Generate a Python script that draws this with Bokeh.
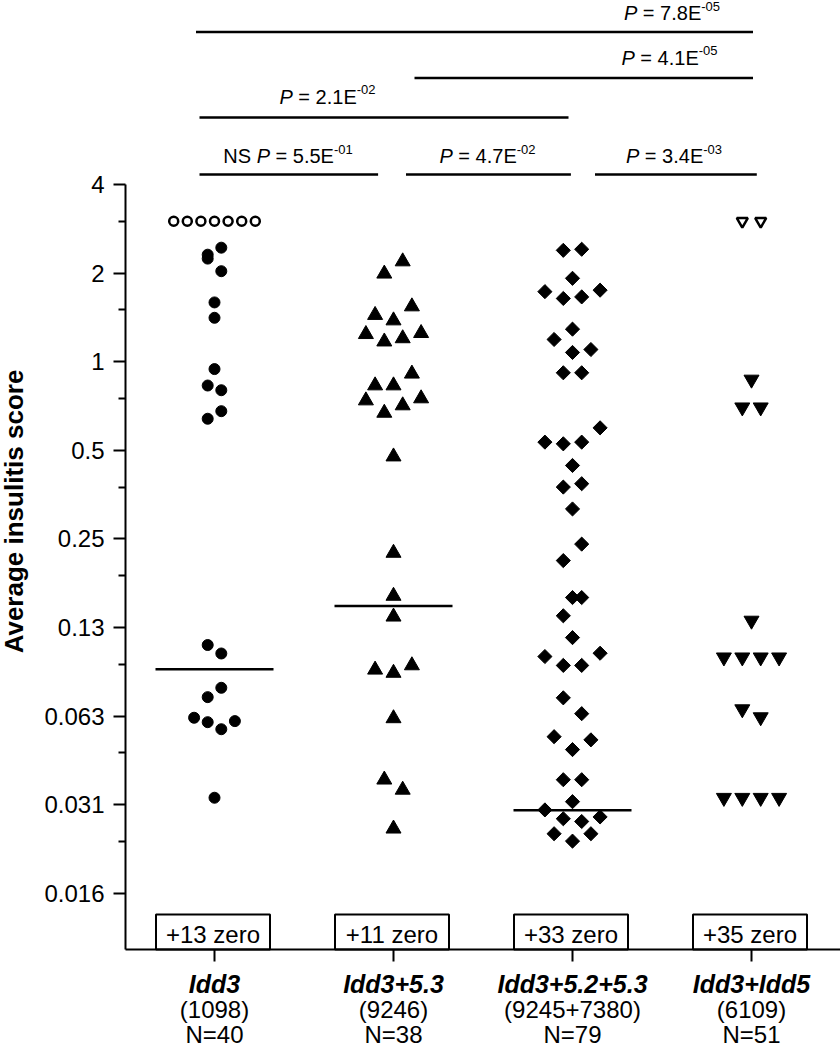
import numpy as np
from bokeh.plotting import figure
from bokeh.models import Range1d, FixedTicker
from bokeh.embed import file_html
from bokeh.resources import INLINE
from bokeh.core.properties import value

# ---------------- data ----------------
groups = ["Idd3", "Idd3+5.3", "Idd3+5.2+5.3", "Idd3+Idd5"]
strain_ids = ["(1098)", "(9246)", "(9245+7380)", "(6109)"]
n_mice = [40, 38, 79, 51]
zero_counts = [13, 11, 33, 35]
medians = [0.0902, 0.148, 0.0299]          # groups 1-3 (group 4 median = 0)

# Idd3 (circles); open = maximal score
g1_open = [3, 3, 3, 3, 3, 3, 3]
g1_open_slot = [-6, -4, -2, 0, 2, 4, 6]
g1_vals = [2.44, 2.31, 2.24, 2.03, 1.59, 1.41, 0.944, 0.83, 0.80, 0.679, 0.64,
           0.109, 0.102, 0.078, 0.0725, 0.0617, 0.0596, 0.0564, 0.0601, 0.0330]
g1_slot = [1, -1, -1, 1, 0, 0, 0, -1, 1, 1, -1,
           -1, 1, 1, -1, -3, -1, 1, 3, 0]

# Idd3+5.3 (triangles)
g2_vals = [2.19, 1.99, 1.54, 1.44, 1.38, 1.24, 1.17, 1.20, 1.25, 0.91, 0.83, 0.83,
           0.738, 0.67, 0.71, 0.75, 0.476, 0.224, 0.160, 0.136, 0.0898, 0.0876,
           0.0929, 0.0614, 0.0380, 0.0351, 0.0259]
g2_slot = [1, -1, 2, -2, 0, -3, -1, 1, 3, 2, -2, 0,
           -3, -1, 1, 3, 0, 0, 0, 0, -2, 0,
           2, 0, -1, 1, 0]

# Idd3+5.2+5.3 (diamonds)
g3_vals = [2.39, 2.41, 1.92, 1.73, 1.64, 1.66, 1.75, 1.29, 1.19, 1.075, 1.10,
           0.917, 0.917, 0.596, 0.533, 0.526, 0.533, 0.444, 0.375, 0.385, 0.316,
           0.240, 0.211, 0.158, 0.158, 0.137, 0.1155, 0.0996, 0.0929, 0.0929,
           0.1022, 0.0721, 0.0637, 0.0532, 0.0481, 0.0519, 0.0380, 0.0380, 0.0320,
           0.0300, 0.0280, 0.0274, 0.0284, 0.0249, 0.0235, 0.0249]
g3_slot = [-1, 1, 0, -3, -1, 1, 3, 0, -2, 0, 2,
           -1, 1, 3, -3, -1, 1, 0, -1, 1, 0,
           1, -1, 0, 1, -1, 0, -3, -1, 1,
           3, -1, 1, -2, 0, 2, -1, 1, 0,
           -3, -1, 1, 3, -2, 0, 2]

# Idd3+Idd5 (inverted triangles); open = maximal score
g4_open = [3, 3]
g4_open_slot = [-1, 1]
g4_vals = [0.87, 0.70, 0.70, 0.132, 0.099, 0.099, 0.099, 0.099, 0.066, 0.062,
           0.033, 0.033, 0.033, 0.033]
g4_slot = [0, -1, 1, 0, -3, -1, 1, 3, -1, 1, -3, -1, 1, 3]

# pairwise comparisons
p_prefix = ["", "", "", "NS", "", ""]
p_mant = ["7.8", "4.1", "2.1", "5.5", "4.7", "3.4"]
p_exp = ["-05", "-05", "-02", "-01", "-02", "-03"]

y_major = [4, 2, 1, 0.5, 0.25, 0.125, 0.0625, 0.03125, 0.015625]
y_major_labels = ["4", "2", "1", "0.5", "0.25", "0.13", "0.063", "0.031", "0.016"]
y_minor = [3, 1.5, 0.75, 0.375, 0.1875, 0.09375, 0.046875, 0.0234375]

# ---------------- layout helpers (canvas pixels -> data) ----------------
PX0, XSTEP = 214.0, 179.0      # x of group 1, px per group
Y4, OCT = 184.0, 88.6          # y of value 4, px per factor 2
def px_x(px):
    return 1 + (px - PX0) / XSTEP
def py_v(py):
    return 2 ** (2 - (py - Y4) / OCT)

FONT = "Liberation Sans"
W, H = 840, 1050
AX_X, AX_Y = 125, 949          # axis positions (px)
p = figure(width=W, height=H, output_backend="svg", toolbar_location=None,
           x_range=Range1d(px_x(0), px_x(W)),
           y_range=Range1d(py_v(H), py_v(0)),
           y_axis_type="log",
           min_border_left=0, min_border_right=0, min_border_top=0,
           min_border_bottom=0)
p.outline_line_color = None
p.xgrid.grid_line_color = None
p.ygrid.grid_line_color = None
p.background_fill_color = "white"
p.border_fill_color = "white"

for ax in (p.xaxis[0], p.yaxis[0]):
    ax.axis_line_width = 2
    ax.axis_line_color = "black"
    ax.major_tick_line_width = 2
    ax.major_tick_line_color = "black"
    ax.major_tick_in = 0
    ax.major_tick_out = 12
    ax.minor_tick_line_width = 2
    ax.minor_tick_line_color = "black"
    ax.minor_tick_in = 0
    ax.minor_tick_out = 7
    ax.major_label_text_font = FONT
    ax.major_label_text_color = "black"

p.yaxis.fixed_location = px_x(AX_X)
p.yaxis.ticker = FixedTicker(ticks=y_major, minor_ticks=y_minor)
p.yaxis.major_label_overrides = {v: s for v, s in zip(y_major, y_major_labels)}
p.yaxis.major_label_text_font_size = "24px"
p.yaxis.major_label_standoff = 9
p.yaxis.bounds = (py_v(AX_Y), 4)

p.xaxis.fixed_location = py_v(AX_Y)
p.xaxis.ticker = FixedTicker(ticks=[1, 2, 3, 4], minor_ticks=[])
p.xaxis.major_label_overrides = {i + 1: g for i, g in enumerate(groups)}
p.xaxis.major_label_text_font_style = "bold italic"
p.xaxis.major_label_text_font_size = "25px"
p.xaxis.major_label_standoff = 8
p.xaxis.bounds = (px_x(AX_X), px_x(W))

# "+N zero" boxes
gx = [1, 2, 3, 4]
half_box = 57.0 / XSTEP
p.quad(left=[g - 1.5 / XSTEP - half_box for g in gx],
       right=[g - 1.5 / XSTEP + half_box for g in gx],
       bottom=[py_v(AX_Y)] * 4, top=[py_v(914)] * 4,
       fill_color="white", line_color="black", line_width=2)
p.text(x=[g - 1.5 / XSTEP for g in gx], y=[py_v(934)] * 4,
       text=[f"+{n} zero" for n in zero_counts],
       text_font=value(FONT), text_font_size="24px", text_align="center",
       text_baseline="middle", text_color="black")

# points
cstep = 6.8 / XSTEP
tstep = 9.2 / XSTEP
def xs(g, slots, step):
    return [g + s * step for s in slots]

p.scatter(xs(1, g1_open_slot, cstep), g1_open, marker="circle", size=9,
          fill_color="white", line_color="black", line_width=2.5)
p.scatter(xs(1, g1_slot, cstep), g1_vals, marker="circle", size=11,
          fill_color="black", line_color="black", line_width=1)
p.scatter(xs(2, g2_slot, tstep), g2_vals, marker="triangle", size=15,
          fill_color="black", line_color="black", line_width=1)
p.scatter(xs(3, g3_slot, tstep), g3_vals, marker="square", angle=np.pi / 4, size=10,
          fill_color="black", line_color="black", line_width=1)
p.scatter(xs(4, g4_open_slot, tstep), g4_open, marker="inverted_triangle", size=11,
          fill_color="white", line_color="black", line_width=2.5)
p.scatter(xs(4, g4_slot, tstep), g4_vals, marker="inverted_triangle", size=15,
          fill_color="black", line_color="black", line_width=1)

# medians
mh = 59.0 / XSTEP
p.segment(x0=[g - mh for g in gx[:3]], x1=[g + mh for g in gx[:3]],
          y0=medians, y1=medians, line_width=2.5, line_color="black")

# comparison bars and P values
bar_px = [(195.5, 752.5), (414, 752.5), (199, 568), (199, 377.6), (405.5, 570.4), (594.5, 756.3)]
bar_py = [31.5, 77.5, 117, 174, 174, 174]
txt_cx = [671.5, 669, 327, 287.5, 487, 673.5]
txt_cy = [12.8, 57, 96, 155.5, 155.5, 155.5]

p.segment(x0=[px_x(a) for a, b in bar_px], x1=[px_x(b) for a, b in bar_px],
          y0=[py_v(y) for y in bar_py], y1=[py_v(y) for y in bar_py],
          line_width=2.5, line_color="black")

CW = {' ': .278, '=': .584, '.': .278, 'E': .667, 'P': .667, 'N': .722, 'S': .667, '-': .333}
def tw(s, size):
    return sum(CW.get(c, .556) for c in s) * size
PFS, SFS = 20, 13
reg, ital, sup = [], [], []
for pre, mant, ex, cx, cy in zip(p_prefix, p_mant, p_exp, txt_cx, txt_cy):
    main = f"= {mant}E"
    pre_w = tw(pre + " ", PFS) if pre else 0
    total = pre_w + tw("P ", PFS) + tw(main, PFS) + tw(ex, SFS)
    x0 = cx - total / 2
    if pre:
        reg.append((x0, cy, pre))
        x0 += pre_w
    ital.append((x0, cy, "P"))
    x0 += tw("P ", PFS)
    reg.append((x0, cy, main))
    x0 += tw(main, PFS)
    sup.append((x0, cy - 7, ex))

for items, size, style in ((reg, PFS, "normal"), (ital, PFS, "italic"), (sup, SFS, "normal")):
    p.text(x=[px_x(a) for a, b, c in items], y=[py_v(b) for a, b, c in items],
           text=[c for a, b, c in items], text_font=value(FONT),
           text_font_size=f"{size}px", text_font_style=style,
           text_align="left", text_baseline="middle", text_color="black")

# lower category lines
p.text(x=gx, y=[py_v(1009)] * 4, text=strain_ids, text_font=value(FONT),
       text_font_size="24px", text_align="center", text_baseline="middle",
       text_color="black")
p.text(x=gx, y=[py_v(1034)] * 4, text=[f"N={n}" for n in n_mice],
       text_font=value(FONT), text_font_size="24px", text_align="center",
       text_baseline="middle", text_color="black")

# y axis title
p.text(x=[px_x(13)], y=[py_v(511)], text=["Average insulitis score"],
       angle=np.pi / 2, text_font=value(FONT), text_font_size="26px",
       text_font_style="bold", text_align="center", text_baseline="middle",
       text_color="black")

open("out.html", "w").write(file_html(p, INLINE))
